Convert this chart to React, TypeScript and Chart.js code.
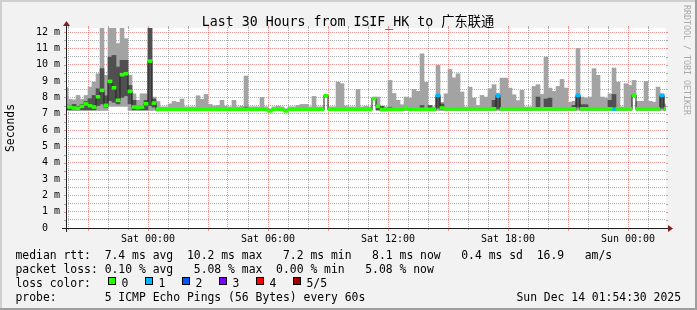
import { useEffect, useRef } from "react";
import { Chart, registerables } from "chart.js";

Chart.register(...registerables);

// ---- axis ranges (hours relative to Sat 00:00) ----
const X_MIN_HOURS = -4.1;
const X_MAX_HOURS = 25.9;
const FIRST_BAR_START = -4.2;
const STEP_HOURS = 0.2;
const Y_MAX_MS = 12.25;

const xLabelHours = [0, 6, 12, 18, 24];
const xLabels = ["Sat 00:00", "Sat 06:00", "Sat 12:00", "Sat 18:00", "Sun 00:00"];
const yLabelValues = [0, 1, 2, 3, 4, 5, 6, 7, 8, 9, 10, 11, 12];
const yLabels = ["0  ", "1 m", "2 m", "3 m", "4 m", "5 m", "6 m", "7 m", "8 m", "9 m", "10 m", "11 m", "12 m"];

// ---- data (ms), one entry per 12-minute step, first one is the partial step ----
const rttMax = [
  8.6,
  7.88, 7.85, 8.12, 7.88, 8.12, 8.63, 8.94, 9.45, 12.3, 9.35,
  12.3, 12.3, 11.3, 12.3, 11.6, 9.35, 8.22, 7.82, 8.22, 8.22,
  12.3, 8.02, 7.75, 7.42, 7.42, 7.6, 7.75, 7.7, 7.9, 7.42,
  7.42, 7.42, 8.1, 7.88, 8.18, 7.57, 7.47, 7.51, 7.82, 7.47,
  7.42, 7.82, 7.42, 7.45, 9.31, 7.42, 7.42, 7.42, 8.0, 7.42,
  7.3, 7.42, 7.47, 7.42, 7.3, 7.42, 7.42, 7.5, 7.57, 7.57,
  7.42, 8.06, 7.42, 7.42, 8.15, 7.42, 7.42, 8.94, 8.84, 7.47,
  7.42, 7.42, 8.49, 7.42, 7.45, 7.42, 8.02, 8.02, 7.47, 7.42,
  9.04, 8.24, 7.82, 7.55, 8.02, 7.96, 8.49, 8.37, 10.67, 8.92,
  7.5, 7.42, 9.96, 7.7, 8.22, 9.71, 9.2, 9.45, 8.33, 7.42,
  8.63, 7.96, 7.5, 8.12, 8.02, 8.53, 8.78, 8.25, 9.18, 9.18,
  8.57, 8.16, 7.8, 8.43, 7.42, 7.42, 8.67, 8.78, 8.18, 10.47,
  8.57, 8.37, 8.67, 9.1, 8.57, 7.71, 7.76, 11.0, 8.02, 7.96,
  8.02, 9.76, 9.35, 8.02, 7.96, 8.22, 9.8, 8.94, 7.42, 8.84,
  8.73, 9.04, 7.76, 7.76, 8.98, 7.76, 7.71, 8.63, 8.22, 7.6,
];

const rttMedian = [
  7.45,
  7.41, 7.35, 7.33, 7.45, 7.6, 7.49, 7.41, 8.04, 8.43, 7.51,
  8.98, 8.59, 7.82, 9.39, 9.45, 8.37, 7.41, 7.37, 7.41, 7.61,
  10.22, 7.65, 7.27, 7.27, 7.27, 7.27, 7.27, 7.27, 7.27, 7.27,
  7.27, 7.27, 7.27, 7.27, 7.27, 7.27, 7.27, 7.27, 7.27, 7.27,
  7.27, 7.27, 7.27, 7.27, 7.27, 7.27, 7.27, 7.27, 7.27, 7.27,
  7.17, 7.27, 7.27, 7.27, 7.17, 7.27, 7.27, 7.27, 7.27, 7.27,
  7.27, 7.27, 7.27, 7.27, 8.1, 7.27, 7.27, 7.27, 7.27, 7.27,
  7.27, 7.27, 7.27, 7.27, 7.27, 7.27, 7.92, 7.45, 7.25, 7.25,
  7.27, 7.27, 7.27, 7.27, 7.33, 7.27, 7.27, 7.27, 7.27, 7.27,
  7.27, 7.27, 8.12, 7.35, 7.3, 7.3, 7.3, 7.3, 7.3, 7.3,
  7.3, 7.3, 7.3, 7.3, 7.3, 7.3, 7.3, 8.12, 7.3, 7.3,
  7.3, 7.3, 7.3, 7.3, 7.3, 7.3, 7.3, 7.3, 7.3, 7.3,
  7.3, 7.3, 7.3, 7.3, 7.3, 7.3, 7.3, 8.12, 7.3, 7.3,
  7.3, 7.3, 7.3, 7.3, 7.3, 7.3, 7.28, 7.3, 7.3, 7.3,
  7.3, 8.12, 7.3, 7.3, 7.3, 7.3, 7.3, 7.3, 8.12, 7.3,
];

const smokeHigh = [
  7.55,
  7.5, 7.57, 7.45, 7.57, 7.75, 7.92, 8.12, 8.53, 9.76, 8.1,
  10.47, 10.57, 9.86, 10.27, 10.27, 8.73, 7.82, 7.45, 7.5, 7.82,
  12.3, 7.9, 7.32, 7.32, 7.32, 7.32, 7.32, 7.32, 7.32, 7.32,
  7.32, 7.32, 7.32, 7.32, 7.32, 7.32, 7.32, 7.32, 7.32, 7.32,
  7.32, 7.32, 7.32, 7.32, 7.4, 7.32, 7.32, 7.32, 7.32, 7.32,
  7.22, 7.32, 7.32, 7.32, 7.22, 7.32, 7.32, 7.32, 7.32, 7.32,
  7.32, 7.32, 7.32, 7.32, 8.13, 7.32, 7.32, 7.32, 7.32, 7.32,
  7.32, 7.32, 7.32, 7.32, 7.32, 7.32, 7.95, 7.5, 7.45, 7.3,
  7.4, 7.32, 7.32, 7.32, 7.38, 7.32, 7.32, 7.32, 7.5, 7.32,
  7.5, 7.32, 8.0, 7.6, 7.35, 7.35, 7.35, 7.35, 7.35, 7.35,
  7.35, 7.35, 7.35, 7.35, 7.35, 7.35, 7.82, 7.95, 7.35, 7.35,
  7.35, 7.35, 7.35, 7.35, 7.35, 7.35, 7.35, 8.02, 7.35, 7.9,
  7.96, 7.35, 7.35, 7.35, 7.35, 7.35, 7.51, 8.05, 7.55, 7.55,
  7.35, 7.35, 7.35, 7.35, 7.35, 7.82, 8.18, 7.35, 7.35, 7.35,
  7.35, 8.13, 7.35, 7.35, 7.35, 7.35, 7.35, 7.35, 8.05, 7.4,
];

const smokeLow = [
  7.24,
  7.24, 7.24, 7.24, 7.24, 7.24, 7.24, 7.24, 7.5, 7.6, 7.4,
  7.8, 7.7, 7.6, 8.0, 8.1, 7.6, 7.24, 7.24, 7.24, 7.24,
  7.5, 7.4, 7.24, 7.24, 7.24, 7.24, 7.24, 7.24, 7.24, 7.24,
  7.24, 7.24, 7.24, 7.24, 7.24, 7.24, 7.24, 7.24, 7.24, 7.24,
  7.24, 7.24, 7.24, 7.24, 7.24, 7.24, 7.24, 7.24, 7.24, 7.24,
  7.15, 7.24, 7.24, 7.24, 7.15, 7.24, 7.24, 7.24, 7.24, 7.24,
  7.24, 7.24, 7.24, 7.24, 8.05, 7.24, 7.24, 7.24, 7.24, 7.24,
  7.24, 7.24, 7.24, 7.24, 7.24, 7.24, 7.88, 7.24, 7.24, 7.24,
  7.24, 7.24, 7.24, 7.24, 7.24, 7.24, 7.24, 7.24, 7.24, 7.24,
  7.24, 7.24, 7.35, 7.24, 7.24, 7.24, 7.24, 7.24, 7.24, 7.24,
  7.24, 7.24, 7.24, 7.24, 7.24, 7.24, 7.24, 7.3, 7.24, 7.24,
  7.24, 7.24, 7.24, 7.24, 7.24, 7.24, 7.24, 7.24, 7.24, 7.24,
  7.24, 7.24, 7.24, 7.24, 7.24, 7.24, 7.24, 7.4, 7.24, 7.24,
  7.24, 7.24, 7.24, 7.24, 7.24, 7.24, 7.24, 7.24, 7.24, 7.24,
  7.24, 8.08, 7.24, 7.24, 7.24, 7.24, 7.24, 7.24, 7.35, 7.24,
];

const rttMin = [
  7.2,
  7.2, 7.2, 7.2, 7.2, 7.2, 7.2, 7.2, 7.2, 7.2, 7.2,
  7.45, 7.45, 7.45, 7.45, 7.45, 7.2, 7.2, 7.2, 7.2, 7.2,
  7.2, 7.2, 7.2, 7.2, 7.2, 7.2, 7.2, 7.2, 7.2, 7.2,
  7.2, 7.2, 7.2, 7.2, 7.2, 7.2, 7.2, 7.2, 7.2, 7.2,
  7.2, 7.2, 7.2, 7.2, 7.2, 7.2, 7.2, 7.2, 7.2, 7.2,
  7.13, 7.2, 7.2, 7.2, 7.13, 7.2, 7.2, 7.2, 7.2, 7.2,
  7.2, 7.2, 7.2, 7.2, 8.0, 7.2, 7.2, 7.2, 7.2, 7.2,
  7.2, 7.2, 7.2, 7.2, 7.2, 7.2, 7.85, 7.2, 7.2, 7.2,
  7.2, 7.2, 7.2, 7.2, 7.2, 7.2, 7.2, 7.2, 7.2, 7.2,
  7.2, 7.2, 7.2, 7.2, 7.2, 7.2, 7.2, 7.2, 7.2, 7.2,
  7.2, 7.2, 7.2, 7.2, 7.2, 7.2, 7.2, 7.2, 7.2, 7.2,
  7.2, 7.2, 7.2, 7.2, 7.2, 7.2, 7.2, 7.2, 7.2, 7.2,
  7.2, 7.2, 7.2, 7.2, 7.2, 7.2, 7.2, 7.2, 7.2, 7.2,
  7.2, 7.2, 7.2, 7.2, 7.2, 7.2, 7.2, 7.2, 7.2, 7.2,
  7.2, 8.05, 7.2, 7.2, 7.2, 7.2, 7.2, 7.2, 7.2, 7.2,
];

const lossLevel = [
  0,
  0, 0, 0, 0, 0, 0, 0, 0, 0, 0,
  0, 0, 0, 0, 0, 0, 0, 0, 0, 0,
  0, 0, 0, 0, 0, 0, 0, 0, 0, 0,
  0, 0, 0, 0, 0, 0, 0, 0, 0, 0,
  0, 0, 0, 0, 0, 0, 0, 0, 0, 0,
  0, 0, 0, 0, 0, 0, 0, 0, 0, 0,
  0, 0, 0, 0, 0, 0, 0, 0, 0, 0,
  0, 0, 0, 0, 0, 0, 0, 0, 0, 0,
  0, 0, 0, 0, 0, 0, 0, 0, 0, 0,
  0, 0, 1, 0, 0, 0, 0, 0, 0, 0,
  0, 0, 0, 0, 0, 0, 0, 1, 0, 0,
  0, 0, 0, 0, 0, 0, 0, 0, 0, 0,
  0, 0, 0, 0, 0, 0, 0, 1, 0, 0,
  0, 0, 0, 0, 0, 0, 1, 0, 0, 0,
  0, 0, 0, 0, 0, 0, 0, 0, 1, 0,
];

const lossColors = ["#26ff00", "#00b8ff", "#0059ff", "#7e00ff", "#ff0000", "#a10000"];
const lossLabels = ["0", "1", "2", "3", "4", "5/5"];
const lossBoxX = [108, 145, 182, 219, 256, 293];

const titleText = "Last 30 Hours from ISIF_HK to 广东联通";
const yTitle = "Seconds";
const watermark = "RRDTOOL / TOBI OETIKER";
const statsRows = [
  "median rtt:  7.4 ms avg  10.2 ms max   7.2 ms min   8.1 ms now   0.4 ms sd  16.9   am/s",
  "packet loss: 0.10 % avg   5.08 % max  0.00 % min   5.08 % now",
];
const lossColorTitle = "loss color:";
const probeText = "probe:       5 ICMP Echo Pings (56 Bytes) every 60s";
const dateText = "Sun Dec 14 01:54:30 2025";

// ---- styles ----
const MONO = '"DejaVu Sans Mono", "Noto Sans CJK SC", monospace';
const BACK = "#f2f2f2";
const SHADE_A = "#cfcfcf";
const SHADE_B = "#9e9e9e";
const GRID = "rgba(143,143,143,0.75)";
const MGRID = "rgba(222,79,79,0.6)";
const AXIS = "#1f1f1f";
const ARROW = "#801f1f";
const SMOKE_LIGHT = "#a3a3a3";
const SMOKE_DARK = "#505050";
const MEDIAN_LINE = "#202020";
const MARK_HALF = 0.09;

const gridHours: number[] = [];
for (let h = Math.ceil(X_MIN_HOURS); h <= Math.floor(X_MAX_HOURS); h++) gridHours.push(h);
const gridMs: number[] = [];
for (let v = 0; v <= 12; v += 0.5) gridMs.push(v);

const isMajorHour = (v: number) => Math.abs(v % 3) < 1e-6;
const isMajorMs = (v: number) => Math.abs(v - Math.round(v)) < 1e-6;

const decorPlugin = {
  id: "smokeDecor",
  beforeDraw(chart: any) {
    const { ctx, chartArea: a, width, height } = chart;
    ctx.save();
    ctx.fillStyle = BACK;
    ctx.fillRect(0, 0, width, height);
    ctx.fillStyle = "#ffffff";
    ctx.fillRect(a.left, a.top, a.right - a.left, a.bottom - a.top);
    ctx.restore();
  },
  afterDraw(chart: any) {
    const { ctx, chartArea: a, width: W, height: H } = chart;
    const xs = chart.scales.x;
    const ys = chart.scales.y;
    ctx.save();

    // frame
    ctx.fillStyle = SHADE_A;
    ctx.fillRect(0, 0, W, 2);
    ctx.fillRect(0, 0, 2, H);
    ctx.fillStyle = SHADE_B;
    ctx.fillRect(0, H - 2, W, 2);
    ctx.fillRect(W - 2, 0, 2, H);

    // tick extensions outside plot
    ctx.lineWidth = 1;
    for (const h of gridHours) {
      const px = Math.round(xs.getPixelForValue(h)) + 0.5;
      const major = isMajorHour(h);
      ctx.strokeStyle = major ? MGRID : GRID;
      ctx.beginPath();
      ctx.moveTo(px, a.bottom);
      ctx.lineTo(px, a.bottom + (major ? 3 : 2));
      ctx.moveTo(px, a.top - 2);
      ctx.lineTo(px, a.top);
      ctx.stroke();
    }
    for (const v of gridMs) {
      const py = Math.round(ys.getPixelForValue(v)) + 0.5;
      ctx.strokeStyle = isMajorMs(v) ? MGRID : GRID;
      ctx.beginPath();
      ctx.moveTo(a.left - 2, py);
      ctx.lineTo(a.left, py);
      ctx.moveTo(a.right, py);
      ctx.lineTo(a.right + 2, py);
      ctx.stroke();
    }

    // axes
    ctx.strokeStyle = AXIS;
    ctx.beginPath();
    ctx.moveTo(a.left - 4, a.bottom + 0.5);
    ctx.lineTo(a.right + 4, a.bottom + 0.5);
    ctx.moveTo(a.left + 0.5, a.bottom + 4);
    ctx.lineTo(a.left + 0.5, a.top - 4);
    ctx.stroke();

    // arrows
    ctx.fillStyle = ARROW;
    ctx.beginPath();
    ctx.moveTo(a.right + 2, a.bottom - 3);
    ctx.lineTo(a.right + 2, a.bottom + 4);
    ctx.lineTo(a.right + 7, a.bottom + 0.5);
    ctx.closePath();
    ctx.fill();
    ctx.beginPath();
    ctx.moveTo(a.left - 3, a.top - 2);
    ctx.lineTo(a.left + 4, a.top - 2);
    ctx.lineTo(a.left + 0.5, a.top - 7);
    ctx.closePath();
    ctx.fill();

    // title
    ctx.fillStyle = "#000";
    ctx.textBaseline = "alphabetic";
    ctx.font = `13.25px ${MONO}`;
    ctx.textAlign = "center";
    ctx.fillText(titleText, 348, 26);

    // y title
    ctx.font = `11.4px ${MONO}`;
    ctx.save();
    ctx.translate(14, (a.top + a.bottom) / 2);
    ctx.rotate(-Math.PI / 2);
    ctx.textAlign = "center";
    ctx.fillText(yTitle, 0, 0);
    ctx.restore();

    // watermark
    ctx.save();
    ctx.font = `8.3px ${MONO}`;
    ctx.fillStyle = "#a8a8a8";
    ctx.translate(684, 5);
    ctx.rotate(Math.PI / 2);
    ctx.textAlign = "left";
    ctx.fillText(watermark, 0, 0);
    ctx.restore();

    // legend
    ctx.font = `11.4px ${MONO}`;
    ctx.fillStyle = "#000";
    ctx.textAlign = "left";
    const lx = 15.5;
    ctx.fillText(statsRows[0], lx, 258.5);
    ctx.fillText(statsRows[1], lx, 272.5);
    ctx.fillText(lossColorTitle, lx, 286.5);
    lossColors.forEach((c, i) => {
      const bx = lossBoxX[i];
      ctx.fillStyle = c;
      ctx.fillRect(bx, 277, 8, 8);
      ctx.strokeStyle = "#000";
      ctx.strokeRect(bx + 0.5, 277.5, 7, 7);
      ctx.fillStyle = "#000";
      ctx.fillText(lossLabels[i], bx + 13.5, 286.5);
    });
    ctx.fillText(probeText, lx, 300.5);
    ctx.textAlign = "right";
    ctx.fillText(dateText, 681, 300.5);

    ctx.restore();
  },
};

export default function App() {
  const ref = useRef<HTMLCanvasElement | null>(null);

  useEffect(() => {
    const canvas = ref.current;
    if (!canvas) return;

    const centers = rttMax.map((_, k) => FIRST_BAR_START + STEP_HOURS * (k + 0.5));
    const barCommon = {
      type: "bar" as const,
      grouped: false,
      barThickness: 4,
      borderWidth: 0,
      borderSkipped: false,
    };

    const datasets: any[] = [
      {
        ...barCommon,
        label: "smoke outer",
        data: centers.map((x, k) => ({ x, y: [rttMin[k], rttMax[k]] })),
        backgroundColor: SMOKE_LIGHT,
        order: 10,
      },
      {
        ...barCommon,
        label: "smoke inner",
        data: centers.map((x, k) => ({ x, y: [smokeLow[k], smokeHigh[k]] })),
        backgroundColor: SMOKE_DARK,
        order: 9,
      },
      {
        type: "line",
        label: "median",
        data: centers.map((x, k) => ({ x, y: rttMedian[k] })),
        borderColor: MEDIAN_LINE,
        borderWidth: 1,
        pointRadius: 0,
        fill: false,
        stepped: "middle",
        order: 8,
      },
      ...lossColors.map((color, level) => ({
        ...barCommon,
        label: `loss ${lossLabels[level]}`,
        data: centers
          .map((x, k) =>
            lossLevel[k] === level ? { x, y: [rttMedian[k] - MARK_HALF, rttMedian[k] + MARK_HALF] } : null
          )
          .filter((d) => d !== null),
        backgroundColor: color,
        order: 1,
      })),
    ];

    const chart = new Chart(canvas, {
      type: "bar",
      data: { datasets },
      plugins: [decorPlugin],
      options: {
        animation: false,
        responsive: false,
        devicePixelRatio: 1,
        events: [],
        layout: { padding: { left: 10, right: 31, top: 28, bottom: 0 } },
        plugins: {
          legend: { display: false },
          tooltip: { enabled: false },
          title: { display: false },
        },
        scales: {
          x: {
            type: "linear",
            offset: false,
            min: X_MIN_HOURS,
            max: X_MAX_HOURS,
            afterBuildTicks: (s: any) => {
              s.ticks = gridHours.map((v) => ({ value: v }));
            },
            afterFit: (s: any) => {
              s.height = 82;
            },
            grid: {
              offset: false,
              color: (c: any) => (c.tick && isMajorHour(c.tick.value) ? MGRID : GRID),
              lineWidth: 1,
              drawTicks: false,
            },
            border: { display: false, dash: [1, 1] },
            ticks: {
              autoSkip: false,
              maxRotation: 0,
              minRotation: 0,
              padding: 5,
              color: "#000",
              font: { family: MONO, size: 10 },
              callback: (value: any) => {
                const idx = xLabelHours.indexOf(Number(value));
                return idx >= 0 ? xLabels[idx] : "";
              },
            },
          },
          y: {
            type: "linear",
            min: 0,
            max: Y_MAX_MS,
            afterBuildTicks: (s: any) => {
              s.ticks = gridMs.map((v) => ({ value: v }));
            },
            afterFit: (s: any) => {
              s.width = 56;
            },
            grid: {
              color: (c: any) => (c.tick && isMajorMs(c.tick.value) ? MGRID : GRID),
              lineWidth: 1,
              drawTicks: false,
            },
            border: { display: false, dash: [1, 1] },
            ticks: {
              autoSkip: false,
              padding: 6,
              color: "#000",
              font: { family: MONO, size: 10 },
              callback: (value: any) => {
                const idx = yLabelValues.indexOf(Number(value));
                return idx >= 0 ? yLabels[idx] : "";
              },
            },
          },
        },
      } as any,
    } as any);

    return () => chart.destroy();
  }, []);

  return (
    <div style={{ position: "absolute", left: 0, top: 0, width: 697, height: 310 }}>
      <canvas ref={ref} width={697} height={310} style={{ display: "block", width: 697, height: 310 }} />
    </div>
  );
}
